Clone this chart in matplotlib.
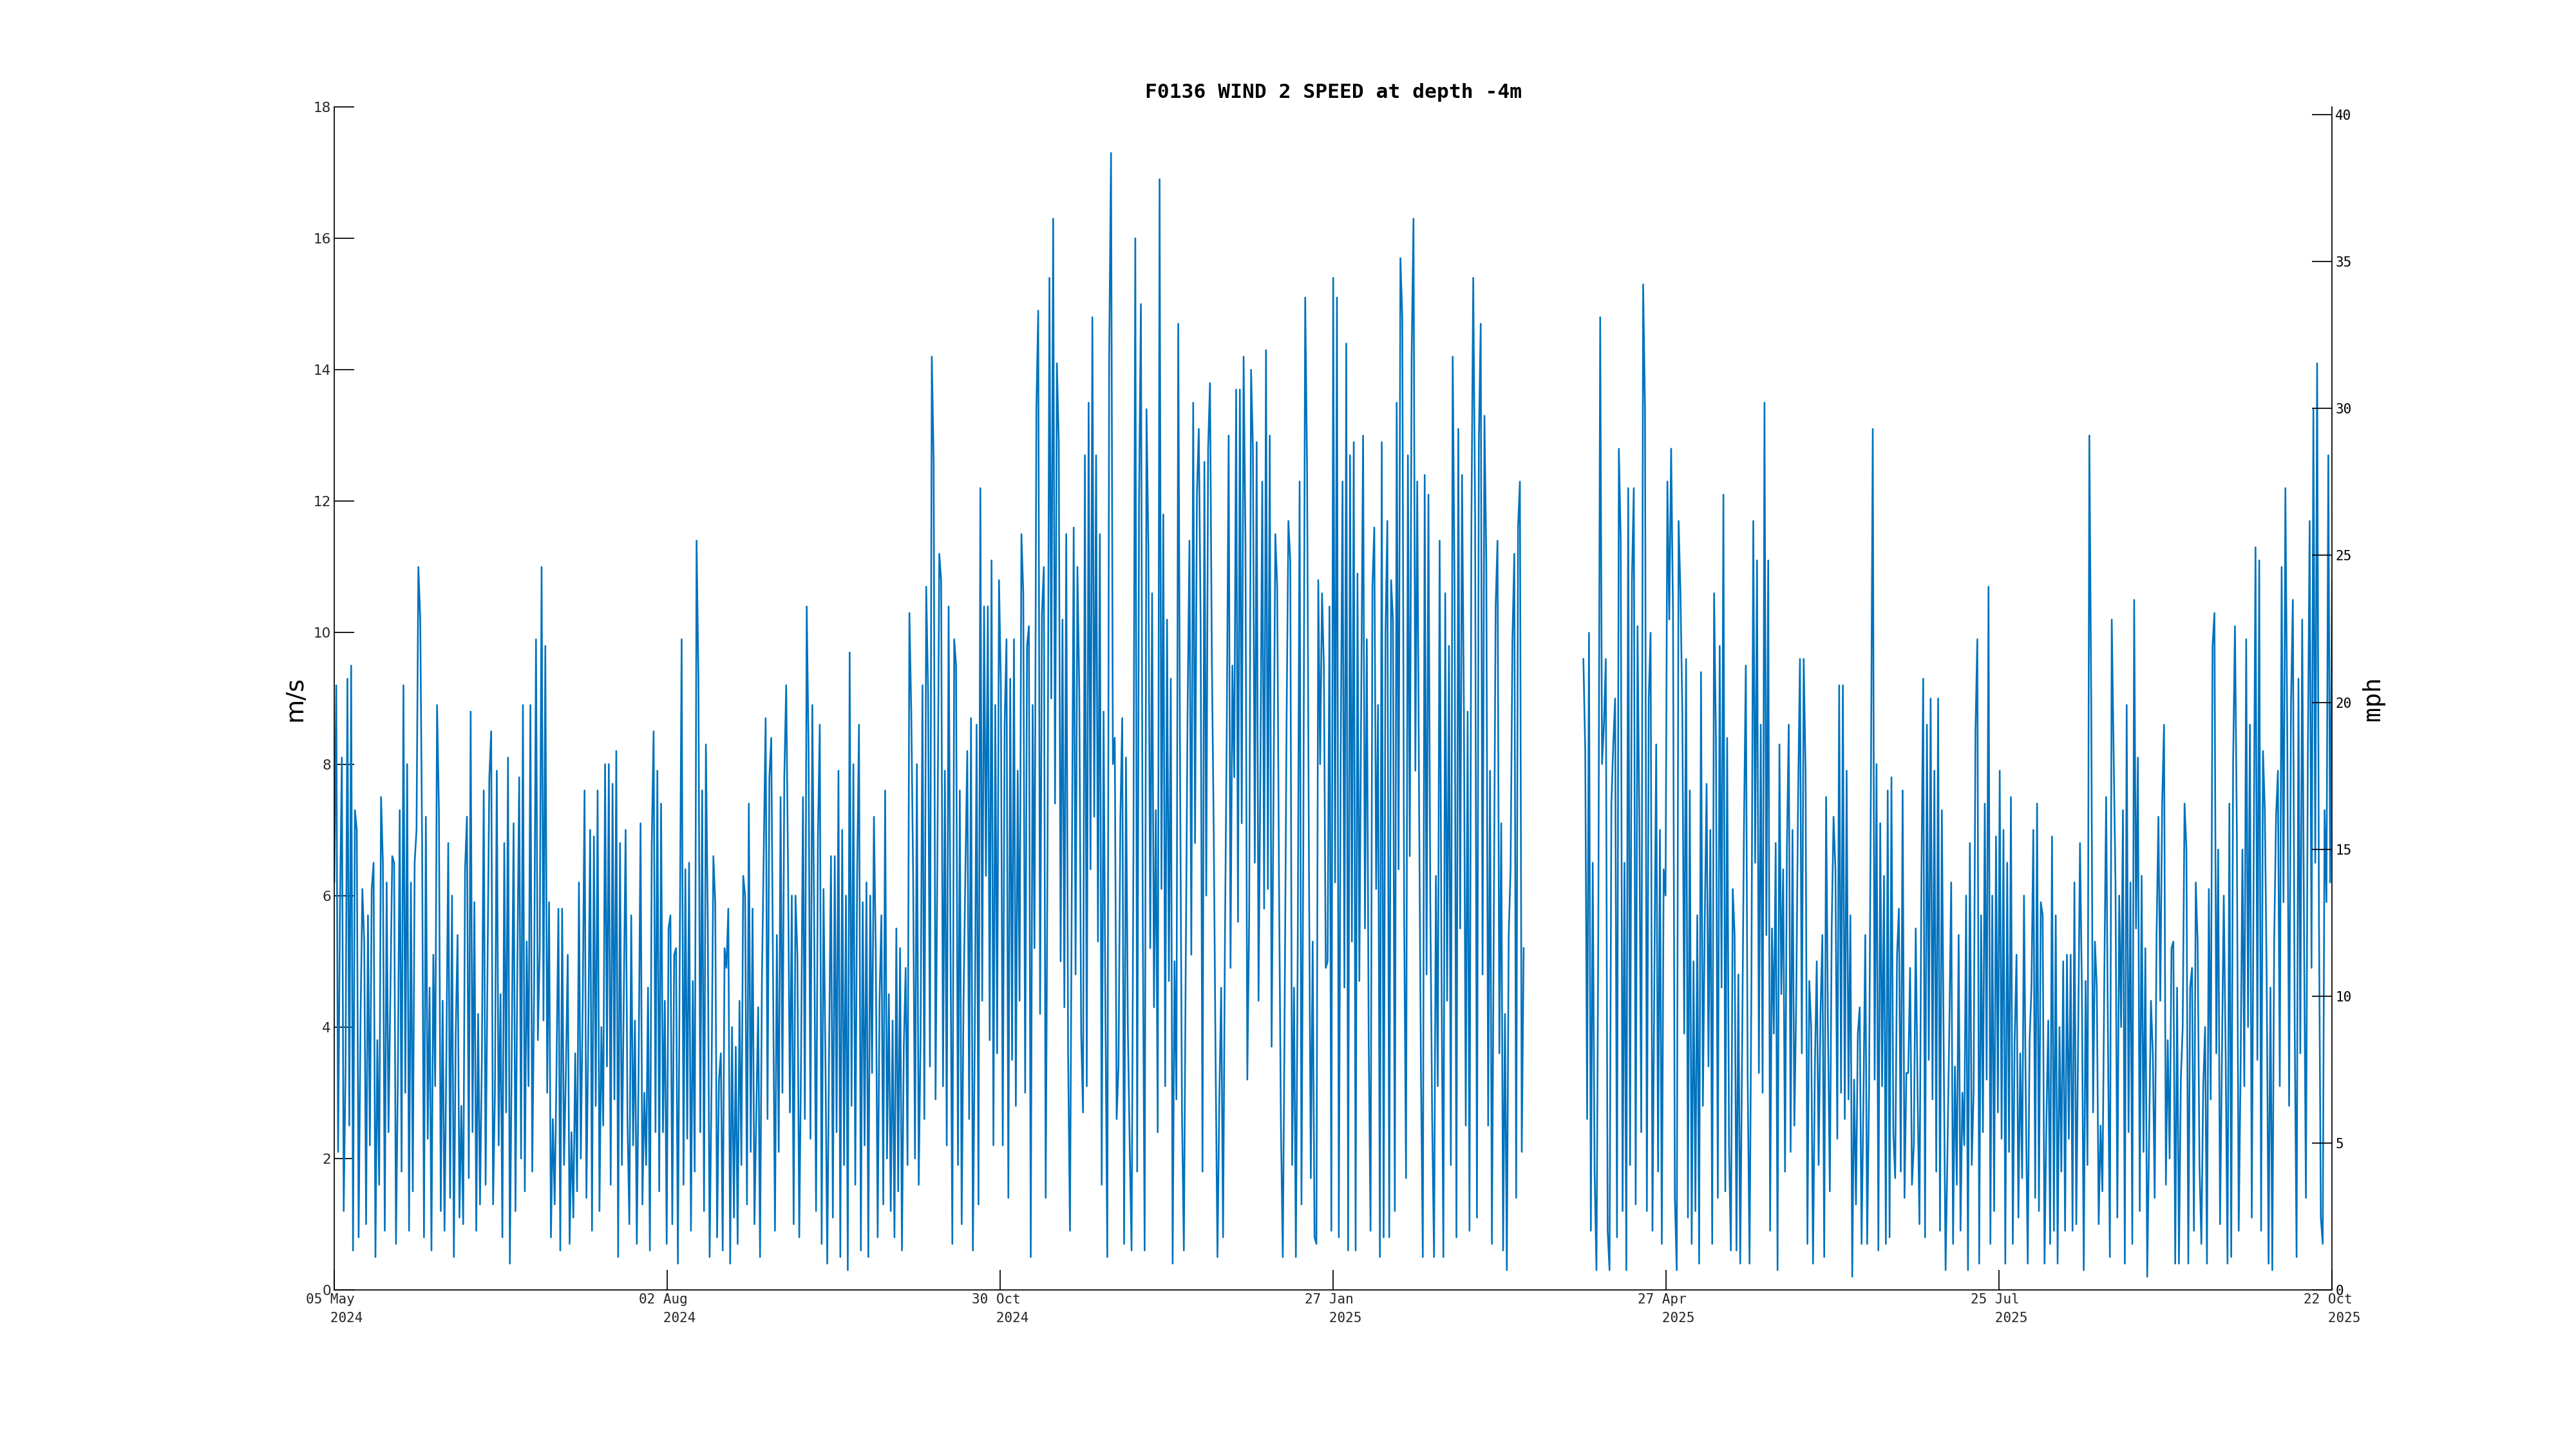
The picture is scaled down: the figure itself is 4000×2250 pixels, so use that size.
import numpy as np
import pandas as pd
import matplotlib
matplotlib.use('Agg')
import matplotlib.pyplot as plt
import matplotlib.dates as mdates

# wind speed in m/s, one value every 12 hours, one list per month
may24 = [6.2, 9.2, 2.1, 5.8, 8.1, 1.2, 3.4, 9.3, 2.5, 9.5,
         0.6, 7.3, 7.0, 0.8, 4.1, 6.1, 5.3, 1.0, 5.7, 2.2,
         6.1, 6.5, 0.5, 3.8, 1.6, 7.5, 6.5, 0.9, 6.2, 2.4,
         4.5, 6.6, 6.5, 0.7, 3.2, 7.3, 1.8, 9.2, 3.0, 8.0,
         0.9, 6.2, 1.5, 6.5, 7.0, 11.0, 10.2, 6.8, 0.8, 7.2,
         2.3, 4.6, 0.6, 5.1]
jun24 = [3.1, 8.9, 7.3, 1.2, 4.4, 0.9, 3.6, 6.8, 1.4, 6.0,
         0.5, 3.9, 5.4, 1.1, 2.8, 1.0, 6.4, 7.2, 1.7, 8.8,
         2.4, 5.9, 0.9, 4.2, 1.3, 3.5, 7.6, 1.6, 4.8, 7.8,
         8.5, 1.3, 3.0, 7.9, 2.2, 4.5, 0.8, 6.8, 2.7, 8.1,
         0.4, 3.6, 7.1, 1.2, 4.9, 7.8, 2.0, 8.9, 1.5, 5.3,
         3.1, 8.9, 1.8, 4.6, 9.9, 3.8, 5.2, 11.0, 4.1, 9.8]
jul24 = [3.0, 5.9, 0.8, 2.6, 1.3, 3.4, 5.8, 0.6, 5.8, 1.9,
         3.3, 5.1, 0.7, 2.4, 1.1, 3.6, 1.5, 6.2, 2.0, 4.3,
         7.6, 1.4, 3.9, 7.0, 0.9, 6.9, 2.8, 7.6, 1.2, 4.0,
         2.5, 8.0, 3.4, 8.0, 1.6, 7.7, 2.9, 8.2, 0.5, 6.8,
         1.9, 4.4, 7.0, 2.6, 1.0, 5.7, 2.2, 4.1, 0.7, 3.5,
         7.1, 1.3, 3.0, 1.9, 4.6, 0.6, 6.8, 8.5, 2.4, 7.9,
         1.5, 7.4]
aug24 = [2.4, 4.4, 0.7, 5.5, 5.7, 1.0, 5.1, 5.2, 0.4, 5.1,
         9.9, 1.6, 6.4, 2.3, 6.5, 0.9, 4.7, 1.8, 11.4, 9.3,
         2.4, 7.6, 1.2, 8.3, 5.6, 0.5, 3.1, 6.6, 5.9, 0.8,
         3.2, 3.6, 0.6, 5.2, 4.9, 5.8, 0.4, 4.0, 1.1, 3.7,
         0.7, 4.4, 1.9, 6.3, 6.0, 1.3, 7.4, 2.1, 5.8, 1.0,
         2.7, 4.3, 0.5, 4.7, 6.7, 8.7, 2.6, 7.8, 8.4, 4.7,
         0.9, 5.4]
sep24 = [2.1, 7.5, 3.0, 7.8, 9.2, 6.4, 2.7, 6.0, 1.0, 6.0,
         5.1, 0.8, 3.6, 7.5, 2.6, 10.4, 8.2, 2.3, 8.9, 5.6,
         1.2, 6.9, 8.6, 0.7, 6.1, 3.6, 0.4, 3.7, 6.6, 1.1,
         6.6, 2.4, 7.9, 0.5, 7.0, 1.9, 6.0, 0.3, 9.7, 2.8,
         8.0, 1.6, 6.3, 8.6, 0.6, 5.9, 2.2, 6.2, 0.5, 6.0,
         3.3, 7.2, 5.1, 0.8, 4.4, 5.7, 1.3, 7.6, 2.0, 4.5]
oct24 = [1.2, 4.1, 0.8, 5.5, 1.5, 5.2, 0.6, 3.7, 4.9, 1.9,
         10.3, 8.8, 6.3, 2.0, 8.0, 1.6, 3.9, 9.2, 2.6, 10.7,
         9.1, 3.4, 14.2, 12.6, 2.9, 6.6, 11.2, 10.8, 3.1, 7.9,
         2.2, 10.4, 5.3, 0.7, 9.9, 9.5, 1.9, 7.6, 1.0, 4.4,
         6.4, 8.2, 2.6, 8.7, 0.6, 3.8, 8.6, 1.3, 12.2, 4.4,
         10.4, 6.3, 10.4, 3.8, 11.1, 2.2, 8.9, 3.6, 10.8, 9.2,
         2.2, 8.6]
nov24 = [9.9, 1.4, 9.3, 3.5, 9.9, 2.8, 7.9, 4.4, 11.5, 10.6,
         3.0, 9.8, 10.1, 0.5, 8.9, 5.2, 13.4, 14.9, 4.2, 10.3,
         11.0, 1.4, 6.8, 15.4, 9.0, 16.3, 7.4, 14.1, 12.9, 5.0,
         10.2, 4.3, 11.5, 3.6, 0.9, 6.2, 11.6, 4.8, 11.0, 9.1,
         3.9, 2.7, 12.7, 3.1, 13.5, 6.4, 14.8, 7.2, 12.7, 5.3,
         11.5, 1.6, 8.8, 4.2, 0.5, 14.2, 17.3, 8.0, 8.4, 2.6]
dec24 = [3.4, 7.2, 8.7, 0.7, 8.1, 4.0, 2.2, 0.6, 6.7, 16.0,
         1.8, 12.0, 15.0, 5.6, 0.6, 13.4, 11.3, 5.2, 10.6, 4.3,
         7.3, 2.4, 16.9, 6.1, 11.8, 3.1, 10.2, 4.7, 9.3, 0.4,
         5.0, 2.9, 14.7, 7.8, 2.7, 0.6, 4.9, 8.8, 11.4, 5.1,
         13.5, 6.8, 12.1, 13.1, 10.1, 1.8, 12.6, 6.0, 12.8, 13.8,
         9.6, 7.0, 3.5, 0.5, 2.9, 4.6, 0.8, 5.3, 8.6, 13.0,
         4.9, 9.5]
jan25 = [7.8, 13.7, 5.6, 13.7, 7.1, 14.2, 11.4, 3.2, 5.7, 14.0,
         12.8, 6.5, 12.9, 4.4, 7.9, 12.3, 5.8, 14.3, 6.1, 13.0,
         3.7, 7.4, 11.5, 10.7, 6.1, 2.5, 0.5, 4.3, 8.6, 11.7,
         11.1, 1.9, 4.6, 0.5, 5.2, 12.3, 1.3, 6.9, 15.1, 12.5,
         6.5, 1.7, 5.3, 0.8, 0.7, 10.8, 8.0, 10.6, 9.5, 4.9,
         5.0, 10.4, 0.9, 15.4, 6.2, 15.1, 0.8, 8.1, 12.3, 4.6,
         14.4, 0.6]
feb25 = [12.7, 5.3, 12.9, 0.6, 10.9, 4.7, 9.0, 13.0, 5.5, 9.9,
         3.8, 0.9, 10.7, 11.6, 6.1, 8.9, 0.5, 12.9, 0.8, 10.0,
         11.7, 0.8, 10.8, 10.2, 1.2, 13.5, 6.4, 15.7, 14.8, 5.7,
         1.7, 12.7, 6.6, 14.2, 16.3, 7.9, 12.3, 7.4, 3.3, 0.5,
         12.4, 4.8, 12.1, 5.9, 2.6, 0.5, 6.3, 3.1, 11.4, 4.9,
         0.5, 10.6, 4.4, 9.8, 1.9, 14.2]
mar25 = [10.7, 0.8, 13.1, 5.5, 12.4, 8.8, 2.5, 8.8, 0.9, 11.6,
         15.4, 11.8, 1.1, 12.9, 14.7, 4.8, 13.3, 11.1, 2.5, 7.9,
         0.7, 5.6, 10.4, 11.4, 3.6, 7.1, 0.6, 4.2, 0.3, 5.4,
         6.4, 9.9, 11.2, 1.4, 11.6, 12.3, 2.1, 5.2]
apr25 = [9.6, 8.2, 2.6, 10.0, 0.9, 6.5, 1.8, 0.3, 5.5, 14.8,
         8.0, 8.6, 9.6, 0.9, 0.3, 7.4, 8.3, 9.0, 0.8, 12.8,
         11.4, 1.2, 6.5, 0.3, 12.2, 1.9, 10.8, 12.2, 1.3, 10.1,
         7.0, 2.4, 15.3, 13.4, 1.2, 9.0, 10.0, 0.9, 4.7, 8.3,
         1.8, 7.0, 0.7, 6.4, 6.0, 12.3, 10.2, 12.8, 10.3, 1.4,
         0.3, 11.7, 10.6]
may25 = [8.8, 3.9, 9.6, 1.1, 7.6, 0.7, 5.0, 1.2, 5.7, 0.4,
         9.4, 2.8, 5.6, 7.7, 3.4, 7.0, 0.7, 10.6, 8.4, 1.4,
         9.8, 4.6, 12.1, 1.5, 8.4, 2.2, 0.6, 6.1, 5.4, 0.6,
         4.8, 0.4, 3.6, 7.0, 9.5, 3.2, 0.4, 4.7, 11.7, 6.5,
         11.1, 3.3, 8.6, 3.0, 13.5, 5.4, 11.1, 0.9, 5.5, 3.9,
         6.8, 0.3, 8.3, 4.5, 6.4, 1.8, 6.7, 8.6, 2.1, 7.0,
         2.5, 4.4]
jun25 = [7.5, 9.6, 3.6, 9.6, 7.9, 0.7, 4.7, 4.0, 0.4, 3.4,
         5.0, 1.9, 4.2, 5.4, 0.5, 7.5, 4.0, 1.5, 5.5, 7.2,
         6.4, 2.3, 9.2, 3.0, 9.2, 2.6, 7.9, 2.9, 5.7, 0.2,
         3.2, 1.3, 3.9, 4.3, 0.7, 2.9, 5.4, 0.7, 3.0, 7.7,
         13.1, 3.2, 8.0, 0.6, 7.1, 3.1, 6.3, 0.7, 7.6, 0.8,
         7.8, 2.4, 1.7, 5.1, 5.8, 1.8, 7.6, 1.4, 3.3, 3.3]
jul25 = [4.9, 1.6, 2.2, 5.5, 3.0, 1.0, 6.0, 9.3, 0.8, 8.6,
         3.5, 9.0, 2.9, 7.9, 1.8, 9.0, 0.9, 7.3, 3.6, 0.3,
         2.1, 4.0, 6.2, 0.7, 3.4, 1.6, 5.4, 0.9, 3.0, 2.2,
         6.0, 0.3, 6.8, 1.9, 3.0, 8.5, 9.9, 0.4, 5.7, 2.4,
         7.4, 3.2, 10.7, 0.7, 6.0, 1.2, 6.9, 2.7, 7.9, 2.3,
         7.0, 0.4, 6.5, 2.1, 7.5, 0.7, 3.8, 5.1, 1.1, 3.6,
         1.7, 6.0]
aug25 = [2.8, 0.4, 3.8, 4.6, 7.0, 1.4, 7.4, 1.2, 5.9, 5.7,
         0.4, 2.6, 4.1, 0.7, 6.9, 0.9, 5.7, 0.4, 4.0, 1.8,
         5.0, 0.9, 5.1, 2.3, 5.1, 0.9, 6.2, 1.0, 3.8, 6.8,
         4.6, 0.3, 4.7, 1.9, 13.0, 9.0, 2.7, 5.3, 4.6, 1.0,
         2.5, 1.5, 4.7, 7.5, 3.7, 0.5, 10.2, 8.2, 6.2, 1.1,
         6.0, 4.0, 7.3, 0.4, 8.9, 2.4, 6.2, 0.7, 10.5, 5.5,
         8.1, 1.2]
sep25 = [6.3, 2.1, 5.2, 0.2, 2.3, 4.4, 3.6, 1.4, 5.4, 7.2,
         4.4, 7.4, 8.6, 1.6, 3.8, 2.0, 5.2, 5.3, 0.4, 4.6,
         0.4, 3.2, 4.0, 7.4, 6.7, 0.4, 4.6, 4.9, 0.9, 6.2,
         5.3, 1.9, 0.7, 3.1, 4.0, 0.4, 6.1, 2.9, 9.8, 10.3,
         3.6, 6.7, 1.0, 3.5, 6.0, 3.6, 0.4, 7.4, 0.5, 8.0,
         10.1, 7.0, 0.9, 3.3, 6.7, 3.1, 9.9, 4.0, 8.6, 1.1]
oct25 = [6.4, 11.3, 3.5, 11.1, 0.9, 8.2, 7.3, 4.7, 0.4, 4.6,
         0.3, 5.3, 7.2, 7.9, 3.1, 11.0, 5.9, 12.2, 8.5, 2.8,
         8.9, 10.5, 4.0, 0.5, 9.3, 3.6, 10.2, 5.4, 1.4, 8.0,
         11.7, 4.9, 13.4, 6.5, 14.1, 5.6, 1.1, 0.7, 7.3, 5.9,
         12.7, 6.2, 10.8]

starts = ['2024-05-05', '2024-06-01', '2024-07-01', '2024-08-01', '2024-09-01',
          '2024-10-01', '2024-11-01', '2024-12-01', '2025-01-01', '2025-02-01',
          '2025-03-01', '2025-04-04 12:00', '2025-05-01', '2025-06-01',
          '2025-07-01', '2025-08-01', '2025-09-01', '2025-10-01']
months = [may24, jun24, jul24, aug24, sep24, oct24, nov24, dec24, jan25, feb25,
          mar25, apr25, may25, jun25, jul25, aug25, sep25, oct25]
gap_at = '2025-03-25'   # no data between mid March and early April

tick_labels = ['05 May\n   2024', '02 Aug\n   2024', '30 Oct\n   2024',
               '27 Jan\n   2025', '27 Apr\n   2025', '25 Jul\n   2025',
               '22 Oct\n   2025']

t, v = [], []
for s, vals in zip(starts, months):
    t.extend(pd.date_range(s, periods=len(vals), freq='12h'))
    v.extend(vals)
t.append(pd.Timestamp(gap_at))
v.append(np.nan)
df = pd.DataFrame({'t': t, 'v': v}).sort_values('t')

MS2MPH = 2.23694
ymax = 18

fig = plt.figure(figsize=(16, 9), dpi=250)
ax = fig.add_axes([0.1298, 0.1098, 0.7755, 0.8164])
ax.plot(df['t'], df['v'], color='#0072BD', lw=0.75)

x0 = mdates.date2num(pd.Timestamp('2024-05-05'))
x1 = mdates.date2num(pd.Timestamp('2025-10-22'))
ax.set_xlim(x0, x1)
ax.set_ylim(0, ymax)
ax.set_xticks(np.linspace(x0, x1, len(tick_labels)))
ax.set_xticklabels(tick_labels, fontfamily='DejaVu Sans Mono', fontsize=6,
                   color='#262626', linespacing=1.55, multialignment='left')
ax.set_yticks(np.arange(0, 19, 2))
for lb in ax.get_yticklabels():
    lb.set_fontsize(6.2)
    lb.set_color('#262626')
ax.tick_params(axis='both', direction='in', length=8.9, width=0.5, pad=1.5)
ax.spines['top'].set_visible(False)
ax.spines['right'].set_visible(False)
ax.spines['left'].set_linewidth(0.5)
ax.spines['bottom'].set_linewidth(0.5)
ax.set_ylabel('m/s', fontsize=11)
ax.yaxis.set_label_coords(-0.0137, 0.5)
ax.set_title('F0136 WIND 2 SPEED at depth -4m', fontfamily='DejaVu Sans Mono',
             fontweight='bold', fontsize=9, pad=4)

ax2 = ax.twinx()
ax2.set_ylim(0, ymax * MS2MPH)
ax2.set_yticks(np.arange(0, 41, 5))
for lb in ax2.get_yticklabels():
    lb.set_fontfamily('DejaVu Sans Mono')
    lb.set_fontsize(6)
ax2.tick_params(axis='y', direction='in', length=8.9, width=0.5, pad=1.5)
for s in ['top', 'left', 'bottom']:
    ax2.spines[s].set_visible(False)
ax2.spines['right'].set_linewidth(0.5)
ax2.set_ylabel('mph', fontsize=11, fontfamily='DejaVu Sans Mono')
ax2.yaxis.set_label_coords(1.0147, 0.5)

fig.savefig('out.png', dpi=250)
